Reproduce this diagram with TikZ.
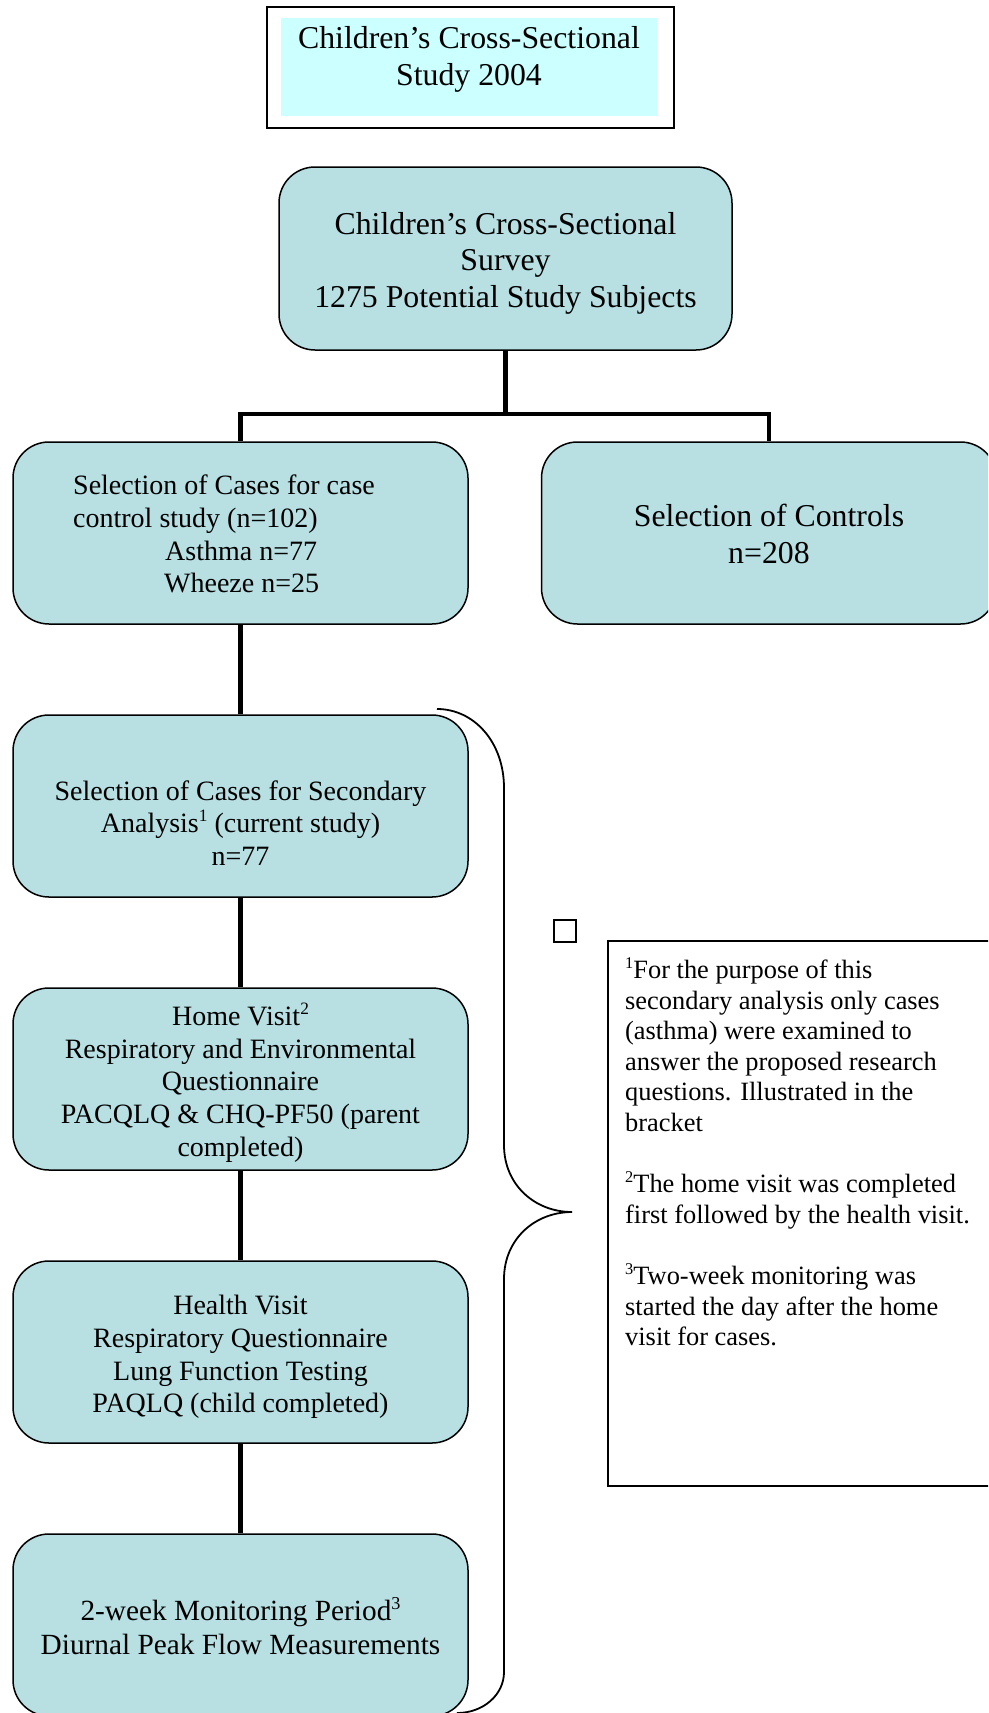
\documentclass[tikz,border=0pt]{standalone}
\usepackage{fontspec}
\usepackage{graphicx}
\setmainfont{Liberation Serif}
\definecolor{boxfill}{RGB}{184,223,226}
\definecolor{topfill}{RGB}{204,255,255}
\newcommand\fnmark[1]{\raisebox{0.4em}{\scalebox{0.62}{#1}}}
\begin{document}
\begin{tikzpicture}[x=1pt,y=-1pt,
  flowbox/.style={draw, fill=boxfill, rounded corners=36pt, line width=1.5pt,
    minimum width=455pt, minimum height=182pt, inner sep=0pt, align=center},
  conn/.style={line width=4.5pt},
  fbig/.style={font=\fontsize{31.8}{36.6}\selectfont},
  fmid/.style={font=\fontsize{28}{32.8}\selectfont},
  fmon/.style={font=\fontsize{29.3}{33.9}\selectfont},
  fnote/.style={font=\fontsize{26.4}{30.6}\selectfont},
  plain/.style={inner sep=0pt}]
\useasboundingbox (0,0) rectangle (988,1713);
\clip (0,0) rectangle (988,1713);

% top title box
\node[draw, line width=1.8pt, minimum width=407pt, minimum height=121pt, anchor=north west, inner sep=0pt] (topouter) at (266,6) {};
\node[fill=topfill, minimum width=376pt, minimum height=98pt, anchor=north west, inner sep=0pt] (topinner) at (281,18) {};
\node[plain, fbig, align=center] (toptext) at (469,59.5) {Children’s Cross-Sectional\\Study 2004};

% flow boxes
\node[flowbox, minimum width=453pt, minimum height=183pt] (survey) at (505.5,258.5) {};
\node[plain, fbig, align=center] (surveytext) at (505.5,263)
  {Children’s Cross-Sectional\\Survey\\1275 Potential Study Subjects};
\node[flowbox] (cases) at (240.5,533) {};
\node[plain, fmid, align=left, anchor=west] (casestext) at (73,534)
  {Selection of Cases for case\\control study (n=102)\\\hspace*{92pt}Asthma n=77\\\hspace*{91pt}Wheeze n=25};
\node[flowbox] (controls) at (769,533) {};
\node[plain, fbig, align=center] (controlstext) at (769,534) {Selection of Controls\\n=208};
\node[flowbox] (sec) at (240.5,806) {};
\node[plain, fmid, align=center] (sectext) at (240.5,823)
  {Selection of Cases for Secondary\\Analysis\fnmark{1} (current study)\\n=77};
\node[flowbox] (home) at (240.5,1079) {};
\node[plain, fmid, align=center] (hometext) at (240.5,1082.5)
  {Home Visit\fnmark{2}\\Respiratory and Environmental\\Questionnaire\\PACQLQ \& CHQ-PF50 (parent\\completed)};
\node[flowbox] (health) at (240.5,1352) {};
\node[plain, fmid, align=center] (healthtext) at (240.5,1357)
  {Health Visit\\Respiratory Questionnaire\\Lung Function Testing\\PAQLQ (child completed)};
\node[flowbox] (monitor) at (240.5,1625) {};
\node[plain, fmon, align=center] (monitortext) at (240.5,1626)
  {2-week Monitoring Period\fnmark{3}\\Diurnal Peak Flow Measurements};

% connectors
\coordinate (split) at (505.5,414);
\draw[conn] (survey.south) -- (split);
\draw[conn] (split) -| (cases.north);
\draw[conn] (split) -| (controls.north);
\draw[conn] (cases.south) -- (sec.north);
\draw[conn] (sec.south) -- (home.north);
\draw[conn] (home.south) -- (health.north);
\draw[conn] (health.south) -- (monitor.north);

% bracket
\draw[line width=1.8pt] (437,709) .. controls (474,709) and (504,742) .. (504,788)
  -- (504,1145) .. controls (504,1185) and (535,1212) .. (572,1212)
  .. controls (535,1212) and (504,1239) .. (504,1279)
  -- (504,1672) .. controls (504,1695) and (483,1713) .. (457,1713);

% small square
\node[draw, line width=1.3pt, minimum width=22pt, minimum height=22pt, inner sep=0pt] (sq) at (565,931) {};

% notes box
\node[draw, line width=1.8pt, minimum width=400pt, minimum height=545pt, anchor=north west, inner sep=0pt] (notes) at (607,940) {};
\node[plain, fnote, align=left, anchor=north west] (notestext) at (625,957)
  {\fnmark{1}For the purpose of this\\
   secondary analysis only cases\\
   (asthma) were examined to\\
   answer the proposed research\\
   questions. Illustrated in the\\
   bracket\\[30.6pt]
   \fnmark{2}The home visit was completed\\
   first followed by the health visit.\\[30.6pt]
   \fnmark{3}Two-week monitoring was\\
   started the day after the home\\
   visit for cases.};
\end{tikzpicture}
\end{document}
